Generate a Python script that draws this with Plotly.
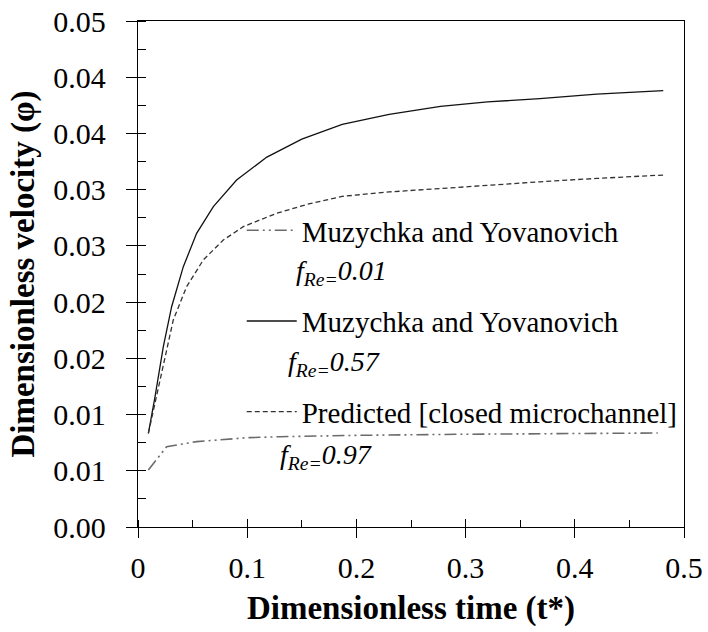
import plotly.graph_objects as go

# Muzychka and Yovanovich, fRe=0.57 (solid)
t_solid = [0.0095, 0.0156, 0.0232, 0.0308, 0.0415, 0.0537, 0.069, 0.0903, 0.118, 0.15, 0.187, 0.23, 0.277, 0.32, 0.368, 0.42, 0.481]
phi_solid = [0.00833, 0.01159, 0.01604, 0.01959, 0.02315, 0.02612, 0.02849, 0.03086, 0.0329, 0.0345, 0.0358, 0.0367, 0.0374, 0.0378, 0.0381, 0.0385, 0.0388]

# Predicted [closed microchannel], fRe=0.97 (dashed)
t_dash = [0.0095, 0.0201, 0.0323, 0.0445, 0.0598, 0.0781, 0.0964, 0.127, 0.155, 0.187, 0.23, 0.277, 0.32, 0.368, 0.42, 0.481]
phi_dash = [0.00833, 0.01307, 0.01841, 0.02137, 0.02375, 0.02552, 0.02671, 0.0279, 0.0287, 0.0294, 0.0298, 0.0301, 0.0304, 0.0307, 0.031, 0.0313]

# Muzychka and Yovanovich, fRe=0.01 (dash-dot-dot)
t_dd = [0.0095, 0.0262, 0.0537, 0.0995, 0.13, 0.2, 0.3, 0.4, 0.476]
phi_dd = [0.00507, 0.00714, 0.00759, 0.00794, 0.00803, 0.00815, 0.00825, 0.00832, 0.00836]

names = ["Muzychka and Yovanovich", "Muzychka and Yovanovich", "Predicted [closed microchannel]"]
fre_labels = ["0.01", "0.57", "0.97"]

y_ticks = [0, 0.005, 0.01, 0.015, 0.02, 0.025, 0.03, 0.035, 0.04, 0.045]
y_ticklabels = ["0.00", "0.01", "0.01", "0.02", "0.02", "0.03", "0.03", "0.04", "0.04", "0.05"]
x_ticks = [0, 0.1, 0.2, 0.3, 0.4, 0.5]
x_ticklabels = ["0", "0.1", "0.2", "0.3", "0.4", "0.5"]

FONT = "Liberation Serif"

fig = go.Figure()
fig.add_trace(go.Scatter(x=t_dd, y=phi_dd, mode="lines", name=names[0], legendgroup="a",
                         line=dict(color="#6b6b6b", width=1.6, dash="12px,4px,2px,4px,2px,4px")))
fig.add_trace(go.Scatter(x=t_solid, y=phi_solid, mode="lines", name=names[1], legendgroup="b",
                         line=dict(color="#111111", width=1.3)))
fig.add_trace(go.Scatter(x=t_dash, y=phi_dash, mode="lines", name=names[2], legendgroup="c",
                         line=dict(color="#333333", width=1.3, dash="5px,3px")))
# invisible trace to activate overlay axes (inside major ticks)
fig.add_trace(go.Scatter(x=[None], y=[None], xaxis="x2", yaxis="y2", showlegend=False, hoverinfo="skip"))

fig.update_layout(
    template="none",
    width=708, height=632,
    margin=dict(l=138, r=24, t=21, b=105),
    paper_bgcolor="white", plot_bgcolor="white",
    font=dict(family=FONT, color="black", size=28),
    xaxis=dict(range=[0, 0.5], tickvals=x_ticks, ticktext=x_ticklabels,
               ticks="outside", ticklen=10, tickwidth=1.2, tickcolor="black",
               minor=dict(dtick=0.05, ticks="inside", ticklen=7, tickwidth=1.2, tickcolor="black"),
               showline=True, linecolor="black", linewidth=1.3, mirror=True,
               showgrid=False, zeroline=False,
               tickfont=dict(family=FONT, size=30),
               ticklabelstandoff=4,
               title=dict(text="<b>Dimensionless time (t*)</b>",
                          font=dict(family=FONT, size=33), standoff=12)),
    yaxis=dict(range=[0, 0.045], tickvals=y_ticks, ticktext=y_ticklabels,
               ticks="outside", ticklen=11, tickwidth=1.2, tickcolor="black",
               minor=dict(dtick=0.0025, ticks="inside", ticklen=8, tickwidth=1.2, tickcolor="black"),
               showline=True, linecolor="black", linewidth=1.3, mirror=True,
               showgrid=False, zeroline=False,
               tickfont=dict(family=FONT, size=30),
               ticklabelstandoff=14,
               title=dict(text="<b>Dimensionless velocity (φ)</b>",
                          font=dict(family=FONT, size=33), standoff=8)),
    xaxis2=dict(overlaying="x", matches="x", range=[0, 0.5], tickvals=x_ticks, showticklabels=False,
                ticks="inside", ticklen=8, tickwidth=1.2, tickcolor="black",
                showline=False, showgrid=False, zeroline=False, side="bottom"),
    yaxis2=dict(overlaying="y", matches="y", range=[0, 0.045], tickvals=y_ticks, showticklabels=False,
                ticks="inside", ticklen=8, tickwidth=1.2, tickcolor="black",
                showline=False, showgrid=False, zeroline=False, side="left"),
    legend=dict(x=0.19, y=0.176, xanchor="left", yanchor="bottom",
                bgcolor="rgba(0,0,0,0)", font=dict(family=FONT, size=29),
                tracegroupgap=50, itemwidth=50, traceorder="grouped"),
    showlegend=True,
)

fre_y = [0.0226, 0.0145, 0.0063]
fre_x = [0.143, 0.1355, 0.128]
for lab, xv, yv in zip(fre_labels, fre_x, fre_y):
    fig.add_annotation(x=xv, y=yv, xref="x", yref="y", xanchor="left", yanchor="middle",
                       text=f"<i>f<sub>Re=</sub>{lab}</i>", showarrow=False,
                       font=dict(family=FONT, size=28, color="black"))

fig.write_html("out.html")
